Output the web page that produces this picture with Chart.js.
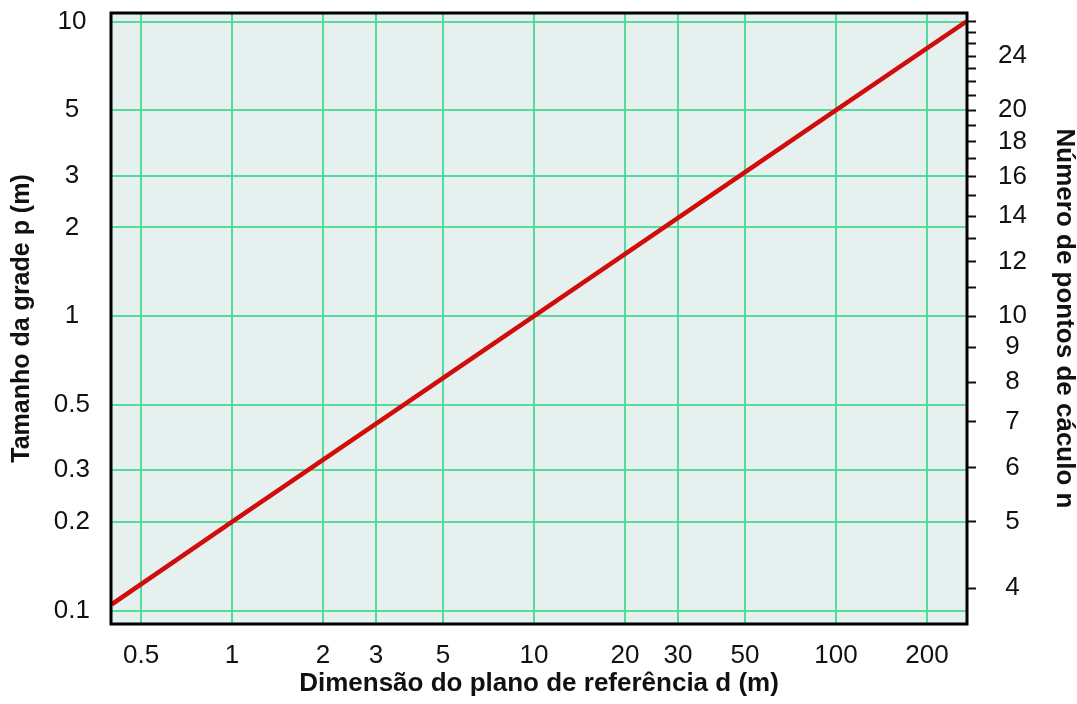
<!DOCTYPE html>
<html><head><meta charset="utf-8">
<script src="https://cdn.jsdelivr.net/npm/chart.js@4.4.0/dist/chart.umd.min.js"></script>
<style>html,body{margin:0;padding:0;background:#fff}#wrap{width:1077px;height:704px}</style>
</head><body><div id="wrap"><canvas id="c" width="1077" height="704"></canvas></div>
<script>
// Data (log-log line)
const dValues = [0.4, 1, 10, 100, 270];      // reference plane dimension d (m)
const pValues = [0.105, 0.2, 1, 5, 10];      // grid size p (m)
const xTickValues = [0.5, 1, 2, 3, 5, 10, 20, 30, 50, 100, 200];
const yTickValues = [0.1, 0.2, 0.3, 0.5, 1, 2, 3, 5, 10];
const nTickValues = [4,5,6,7,8,9,10,11,12,13,14,15,16,17,18,19,20,21,22,23,24,25,26,27];
const nLabelValues = [4,5,6,7,8,9,10,12,14,16,18,20,24];

const xTitle = 'Dimensão do plano de referência d (m)';
const yTitle = 'Tamanho da grade p (m)';
const y2Title = 'Número de pontos de cáculo n';

// relation of the secondary axis: n = d / p with p = 0.2·5^log10(d)  ->  p(n)
function pOfN(n){ return 0.2 * Math.pow(n / 5, Math.log(5) / Math.log(2)); }

const X_MIN = 0.3977, X_MAX = 271.5, Y_MIN = 0.09, Y_MAX = 10.69;
const FONT = "'Liberation Sans', Arial, sans-serif";
const GRID = 'rgba(70,216,150,0.9)';
const TICK_SIZE = 26;

const areaPlugin = {
  id: 'area',
  beforeDraw(chart){
    const {ctx, chartArea:a} = chart;
    ctx.save(); ctx.fillStyle = '#e6f0ee';
    ctx.fillRect(a.left, a.top, a.right - a.left, a.bottom - a.top);
    ctx.restore();
  },
  afterDatasetsDraw(chart){
    const {ctx, chartArea:a} = chart;
    ctx.save(); ctx.strokeStyle = '#000'; ctx.lineWidth = 3;
    ctx.strokeRect(a.left, a.top, a.right - a.left, a.bottom - a.top);
    ctx.restore();
  }
};

function noPad(s){ s.paddingTop = 0; s.paddingBottom = 0; s.paddingLeft = 0; s.paddingRight = 0; }

Chart.defaults.font.family = FONT;
Chart.defaults.color = '#111';

new Chart(document.getElementById('c'), {
  type: 'line',
  data: {
    datasets: [{
      data: dValues.map((d, i) => ({x: d, y: pValues[i]})),
      borderColor: '#d00d0a', borderWidth: 4.5, pointRadius: 0, tension: 0, fill: false
    }]
  },
  options: {
    responsive: false, animation: false,
    layout: {padding: {top: 13, left: 0, right: 0, bottom: 0}},
    plugins: {legend: {display: false}, tooltip: {enabled: false}},
    scales: {
      x: {
        type: 'logarithmic', position: 'bottom', min: X_MIN, max: X_MAX,
        afterBuildTicks: s => { s.ticks = xTickValues.map(v => ({value: v})); },
        afterFit: s => { s.height = 80; noPad(s); },
        ticks: {autoSkip: false, maxRotation: 0, padding: 16, font: {size: TICK_SIZE}, color: '#111',
                callback: v => String(v)},
        grid: {color: GRID, lineWidth: 2, drawTicks: false},
        border: {display: false},
        title: {display: true, text: xTitle, font: {size: 26, weight: 'bold'}, color: '#111',
                padding: {top: 0, bottom: 5}}
      },
      y: {
        type: 'logarithmic', position: 'left', min: Y_MIN, max: Y_MAX,
        afterBuildTicks: s => { s.ticks = yTickValues.map(v => ({value: v})); },
        afterFit: s => { s.width = 111; noPad(s); },
        ticks: {autoSkip: false, padding: 21, crossAlign: 'center', font: {size: TICK_SIZE}, color: '#111',
                callback: v => String(v)},
        grid: {color: GRID, lineWidth: 2, drawTicks: false},
        border: {display: false},
        title: {display: true, text: yTitle, font: {size: 25, weight: 'bold'}, color: '#111',
                padding: {top: 7, bottom: 0}}
      },
      y2: {
        type: 'logarithmic', position: 'right', min: Y_MIN, max: Y_MAX,
        afterBuildTicks: s => { s.ticks = nTickValues.map(n => ({value: pOfN(n)})); },
        afterFit: s => { s.width = 110; noPad(s); },
        ticks: {autoSkip: false, padding: 22, crossAlign: 'center', font: {size: TICK_SIZE}, color: '#111',
                callback: (v, i) => nLabelValues.includes(nTickValues[i]) ? String(nTickValues[i]) : ''},
        grid: {drawOnChartArea: false, drawTicks: true, tickLength: 9, tickColor: '#111', tickWidth: 2},
        border: {display: false},
        title: {display: true, text: y2Title, font: {size: 26, weight: 'bold', lineHeight: 1}, color: '#111',
                padding: {top: 0, bottom: 0}}
      }
    }
  },
  plugins: [areaPlugin]
});
</script>
</body></html>
